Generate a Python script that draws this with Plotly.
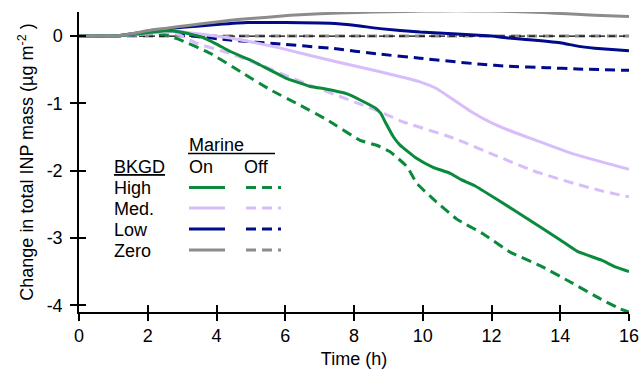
import plotly.graph_objects as go

# Time axis (h) and change in total INP mass (ug m^-2) per background scenario
high_on_t = [0, 1, 1.5, 2, 2.5, 2.96, 3.53, 4, 4.4, 5, 5.27, 6, 6.73, 7.1, 7.4, 7.8,
             8.18, 8.62, 8.78, 8.9, 9.15, 9.34, 9.83, 10.3, 10.8, 11.1, 11.5, 12.2, 13, 14,
             14.5, 15.2, 15.6, 16]
high_on_v = [0, 0, 0.02, 0.05, 0.08, 0.06, -0.01, -0.12, -0.23, -0.36, -0.43, -0.62,
             -0.75, -0.78, -0.81, -0.86, -0.95, -1.07, -1.15, -1.27, -1.5, -1.62, -1.82,
             -1.95, -2.04, -2.13, -2.22, -2.44, -2.7, -3.03, -3.2, -3.33, -3.43, -3.5]

high_off_t = [0, 1, 1.5, 2, 2.5, 2.96, 3.83, 4.7, 5.57, 6.44, 7.2, 8.18, 8.7, 9.05, 9.54,
              9.83, 10.3, 10.99, 11.76, 12.54, 13.41, 14.28, 15.15, 15.73, 16]
high_off_v = [0, 0, 0.02, 0.04, 0.02, -0.06, -0.26, -0.53, -0.8, -1.03, -1.24, -1.55,
              -1.63, -1.72, -1.94, -2.19, -2.42, -2.72, -2.94, -3.21, -3.41, -3.65, -3.9,
              -4.05, -4.1]

med_on_t = [0, 1, 2, 2.8, 3.2, 4.4, 5.86, 7.3, 8.76, 9.92, 10.4, 10.9, 11.4, 11.96, 12.5,
            13.3, 14.2, 15.2, 16]
med_on_v = [0, 0, 0.04, 0.07, 0.05, -0.03, -0.18, -0.36, -0.53, -0.68, -0.78, -0.95,
            -1.12, -1.28, -1.4, -1.55, -1.72, -1.87, -1.98]

med_off_t = [0, 1, 2, 2.8, 3.43, 4.4, 5.27, 6.82, 8.38, 8.96, 9.34, 10.8, 11.3, 12,
             13.2, 14.4, 15.2, 16]
med_off_v = [0, 0, 0.03, 0.04, -0.11, -0.26, -0.43, -0.75, -1.05, -1.17, -1.26, -1.5,
             -1.6, -1.75, -2.0, -2.19, -2.3, -2.39]

low_on_t = [0, 1, 1.5, 2, 2.5, 3, 4, 4.9, 6, 7.3, 8, 8.76, 9.92, 11, 12, 12.5, 13, 14,
            14.5, 15, 16]
low_on_v = [0, 0, 0.03, 0.07, 0.1, 0.13, 0.17, 0.2, 0.2, 0.19, 0.16, 0.11, 0.06, 0.03,
            0.0, -0.03, -0.05, -0.1, -0.15, -0.18, -0.22]

low_off_t = [0, 1, 2, 2.8, 3.3, 4.4, 5.86, 7.3, 8.76, 9.92, 11.7, 12.5, 13.6, 14.5, 16]
low_off_v = [0, 0, 0.03, 0.04, 0.0, -0.06, -0.12, -0.18, -0.27, -0.33, -0.42, -0.45,
             -0.47, -0.49, -0.51]

zero_on_t = [0, 1, 1.3, 1.8, 2.1, 2.6, 3.24, 4, 4.7, 5.5, 6.15, 7, 8.1, 9, 10, 11, 12,
             12.6, 13.5, 14.2, 15, 16]
zero_on_v = [0, 0, 0.015, 0.06, 0.09, 0.12, 0.16, 0.21, 0.25, 0.28, 0.31, 0.33, 0.35,
             0.36, 0.37, 0.375, 0.37, 0.365, 0.35, 0.33, 0.31, 0.29]

zero_off_t = [0, 16]
zero_off_v = [0, 0]

x_ticks = [0, 2, 4, 6, 8, 10, 12, 14, 16]
y_ticks = [0, -1, -2, -3, -4]
y_tick_text = ["0", "-1", "-2", "-3", "-4"]

bkgd_names = ["High", "Med.", "Low", "Zero"]
colors = {"High": "#0b8a3c", "Med.": "#d8bdfb", "Low": "#000a8a", "Zero": "#8c8c8c"}

FONT = "Liberation Sans, Arial, sans-serif"
FS = 18
DASH = "10px,6px"
LW = 3

fig = go.Figure()


def add_line(t, v, name, dashed):
    fig.add_trace(go.Scatter(
        x=t, y=v, mode="lines", name=name, showlegend=False,
        line=dict(color=colors[name], width=LW, dash=DASH if dashed else "solid",
                  shape="spline", smoothing=0.4),
        hoverinfo="skip"))


add_line(zero_off_t, zero_off_v, "Zero", True)
# thin black reference line at zero
fig.add_trace(go.Scatter(x=zero_off_t, y=zero_off_v, mode="lines", showlegend=False,
                         line=dict(color="black", width=1.3, dash="6px,4px"),
                         hoverinfo="skip"))
add_line(low_off_t, low_off_v, "Low", True)
add_line(med_off_t, med_off_v, "Med.", True)
add_line(high_off_t, high_off_v, "High", True)
add_line(low_on_t, low_on_v, "Low", False)
add_line(med_on_t, med_on_v, "Med.", False)
add_line(high_on_t, high_on_v, "High", False)
add_line(zero_on_t, zero_on_v, "Zero", False)

# empty trace on the overlay axes that carry the inward half of each tick
fig.add_trace(go.Scatter(x=[], y=[], xaxis="x2", yaxis="y2", showlegend=False,
                         hoverinfo="skip"))

x_range = [0, 16]
y_range = [-4.1, 0.357]

axis_common = dict(showgrid=False, zeroline=False, linecolor="black", linewidth=1.5,
                   tickcolor="black", tickwidth=1.5, ticklen=7, automargin=False)

fig.update_layout(
    width=642, height=374,
    margin=dict(l=79, r=13, t=12, b=62),
    plot_bgcolor="white", paper_bgcolor="white",
    font=dict(family=FONT, size=FS, color="black"),
    xaxis=dict(range=x_range, tickvals=x_ticks, ticks="outside", showline=True,
               title=dict(text="Time (h)", standoff=7, font=dict(size=FS)),
               tickfont=dict(size=FS), **axis_common),
    yaxis=dict(range=y_range, tickvals=y_ticks, ticktext=y_tick_text, ticks="outside",
               showline=True, ticklabelstandoff=4,
               title=dict(text="Change in total INP mass (µg m<sup>-2</sup> )",
                          standoff=8, font=dict(size=FS)),
               tickfont=dict(size=FS), **axis_common),
    xaxis2=dict(range=x_range, tickvals=x_ticks, ticks="inside", showline=False,
                showticklabels=False, overlaying="x", anchor="y", side="bottom",
                **axis_common),
    yaxis2=dict(range=y_range, tickvals=y_ticks, ticks="inside", showline=False,
                showticklabels=False, overlaying="y", anchor="x", side="left",
                **axis_common),
)

# custom two-column legend (Marine On / Off) drawn in paper coordinates
W, H, L, T = 550.0, 300.0, 79.0, 12.0


def px(xp):
    return (xp - L) / W


def py(yp):
    return 1 - (yp - T) / H


annos = [
    dict(text="Marine", x=px(187), y=py(145)),
    dict(text="<u>BKGD</u>", x=px(112), y=py(167)),
    dict(text="On", x=px(187), y=py(167)),
    dict(text="Off", x=px(242), y=py(167)),
]
row_y = [188, 208.5, 229.5, 250.5]
for name, ry in zip(bkgd_names, row_y):
    annos.append(dict(text=name, x=px(112), y=py(ry)))
for a in annos:
    fig.add_annotation(xref="paper", yref="paper", xanchor="left", yanchor="middle",
                       showarrow=False, font=dict(size=FS, family=FONT), **a)

fig.add_shape(type="line", xref="paper", yref="paper", x0=px(188), x1=px(275),
              y0=py(153.5), y1=py(153.5), line=dict(color="black", width=1.3))
for name, ry in zip(bkgd_names, row_y):
    fig.add_shape(type="line", xref="paper", yref="paper", x0=px(189), x1=px(225),
                  y0=py(ry - 0.5), y1=py(ry - 0.5),
                  line=dict(color=colors[name], width=LW))
    fig.add_shape(type="line", xref="paper", yref="paper", x0=px(246), x1=px(281),
                  y0=py(ry - 0.5), y1=py(ry - 0.5),
                  line=dict(color=colors[name], width=LW, dash=DASH))

fig.write_html("out.html")
